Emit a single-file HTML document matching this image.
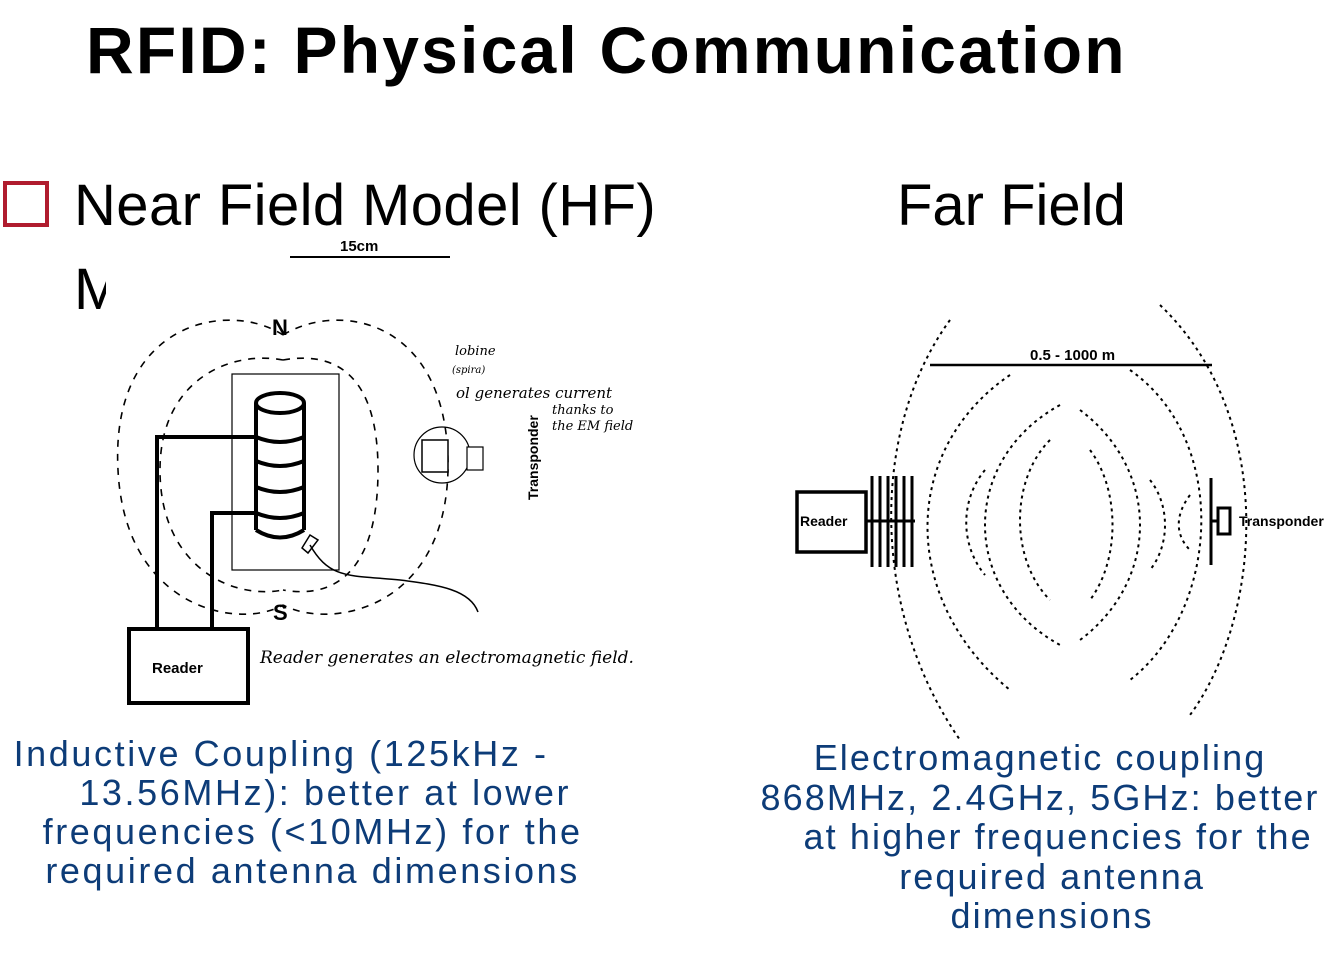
<!DOCTYPE html>
<html><head><meta charset="utf-8"><style>
body{margin:0;width:1342px;height:956px;background:#fff;overflow:hidden;font-family:"Liberation Sans",sans-serif;position:relative}
.t{position:absolute;white-space:nowrap}
.blue{color:#0d3c78;font-size:36px;line-height:39px;text-align:center;position:absolute;letter-spacing:2.6px;white-space:nowrap}
</style></head><body>
<div class="t" style="left:86px;top:12px;font-size:66px;font-weight:bold;letter-spacing:2.2px">RFID: Physical Communication</div>
<div style="position:absolute;left:3px;top:181px;width:38px;height:38px;border:4px solid #b01c2e"></div>
<div class="t" style="left:74px;top:172px;font-size:58px;letter-spacing:0.4px">Near Field Model (HF)</div>
<div class="t" style="left:74px;top:256px;font-size:58px;width:32px;overflow:hidden">M</div>
<div class="t" style="left:897px;top:172px;font-size:58px">Far Field</div>

<svg style="position:absolute;left:0;top:0" width="1342" height="956">
<g fill="none" stroke="#000" stroke-width="1.6" stroke-dasharray="7,7">
<path d="M283,335 C230,300 110,320 118,470 C125,610 240,630 283,605"/>
<path d="M283,335 C340,300 450,320 448,470 C445,610 330,630 283,605"/>
<path d="M283,360 C230,350 160,380 160,470 C160,565 230,600 283,590"/>
<path d="M283,360 C340,350 378,380 378,470 C378,565 340,600 283,590"/>
</g>
<line x1="290" y1="257" x2="450" y2="257" stroke="#000" stroke-width="2"/>
<text x="340" y="251" font-size="15" font-weight="bold" font-family="Liberation Sans">15cm</text>
<text x="272" y="335" font-size="22" font-weight="bold" font-family="Liberation Sans">N</text>
<text x="273" y="620" font-size="22" font-weight="bold" font-family="Liberation Sans">S</text>
<rect x="232" y="374" width="107" height="196" fill="none" stroke="#000" stroke-width="1.2"/>
<g fill="none" stroke="#000" stroke-width="4">
<ellipse cx="280" cy="403" rx="24" ry="10"/>
<line x1="256" y1="403" x2="256" y2="530"/><line x1="304" y1="403" x2="304" y2="530"/>
<path d="M256,437 Q280,447 304,437 M256,461 Q280,471 304,461 M256,487 Q280,497 304,487 M256,513 Q280,523 304,513 M256,530 Q280,545 304,530"/>
<path d="M157,628 V437 H256 M212,628 V513 H256"/>
<rect x="129" y="629" width="119" height="74"/>
</g>
<text x="152" y="673" font-size="15" font-weight="bold" font-family="Liberation Sans">Reader</text>
<path d="M310,545 C330,580 350,575 400,580 C440,585 470,590 478,612" fill="none" stroke="#000" stroke-width="1.5"/>
<path d="M302,548 L310,535 L318,540 L308,553 Z" fill="none" stroke="#000" stroke-width="1.5"/>
<circle cx="442" cy="455" r="28" fill="none" stroke="#000" stroke-width="1.2"/>
<rect x="422" y="440" width="26" height="32" fill="#fff" stroke="#000" stroke-width="1.5"/>
<rect x="467" y="447" width="16" height="23" fill="#fff" stroke="#000" stroke-width="1.2"/>
<text transform="translate(538,500) rotate(-90)" font-size="14" font-weight="bold" font-family="Liberation Sans">Transponder</text>
<g font-family="DejaVu Serif" font-style="italic" font-size="13">
<text x="455" y="355">lobine</text><text x="452" y="373" font-size="10">(spira)</text>
<text x="456" y="398" font-size="15">ol generates current</text>
<text x="552" y="414">thanks to</text><text x="552" y="430">the EM field</text>
<text x="260" y="663" font-size="17">Reader generates an electromagnetic field.</text>
</g>
</svg>

<svg style="position:absolute;left:0;top:0" width="1342" height="956">
<line x1="930" y1="365" x2="1212" y2="365" stroke="#000" stroke-width="2.5"/>
<text x="1030" y="360" font-size="15" font-weight="bold" font-family="Liberation Sans">0.5 - 1000 m</text>
<rect x="797" y="492" width="69" height="60" fill="none" stroke="#000" stroke-width="3.5"/>
<text x="800" y="526" font-size="14" font-weight="bold" font-family="Liberation Sans">Reader</text>
<g stroke="#000" stroke-width="3">
<line x1="872" y1="476" x2="872" y2="567"/><line x1="880" y1="476" x2="880" y2="567"/><line x1="888" y1="476" x2="888" y2="567"/><line x1="896" y1="476" x2="896" y2="567"/><line x1="904" y1="476" x2="904" y2="567"/><line x1="912" y1="476" x2="912" y2="567"/>
<line x1="866" y1="521" x2="915" y2="521"/>
</g>
<g fill="none" stroke="#000" stroke-width="2" stroke-dasharray="3,4">
<path d="M950,320 C870,430 870,610 960,740"/>
<path d="M1010,375 C900,450 900,600 1010,690"/>
<path d="M1060,405 C960,460 960,590 1060,645"/>
<path d="M1050,440 C1010,480 1010,560 1050,600"/>
<path d="M985,470 C960,500 960,545 985,575"/>
<path d="M1160,305 C1280,420 1260,620 1190,715"/>
<path d="M1130,370 C1230,440 1220,610 1130,680"/>
<path d="M1080,410 C1160,470 1160,580 1080,640"/>
<path d="M1090,450 C1120,490 1120,560 1090,600"/>
<path d="M1150,480 C1170,505 1170,545 1150,570"/>
<path d="M1190,495 C1175,515 1175,535 1190,550"/>
</g>
<g stroke="#000" stroke-width="3" fill="none">
<line x1="1211" y1="478" x2="1211" y2="565"/>
<rect x="1218" y="508" width="12" height="26"/>
<line x1="1211" y1="521" x2="1218" y2="521"/>
</g>
<text x="1239" y="526" font-size="14" font-weight="bold" font-family="Liberation Sans">Transponder</text>
</svg>

<div class="blue" style="left:0px;top:734px;width:600px">Inductive Coupling (125kHz -&nbsp;&nbsp;&nbsp;<br>&nbsp;&nbsp;&nbsp;&nbsp;13.56MHz): better at lower<br>&nbsp;&nbsp;frequencies (&lt;10MHz) for the<br>&nbsp;&nbsp;required antenna dimensions</div>
<div class="blue" style="left:740px;top:738px;width:600px;line-height:39.5px;letter-spacing:2.1px">Electromagnetic coupling<br>868MHz, 2.4GHz, 5GHz: better<br>&nbsp;&nbsp;&nbsp;at higher frequencies for the<br>&nbsp;&nbsp;required antenna<br>&nbsp;&nbsp;dimensions</div>
</body></html>
